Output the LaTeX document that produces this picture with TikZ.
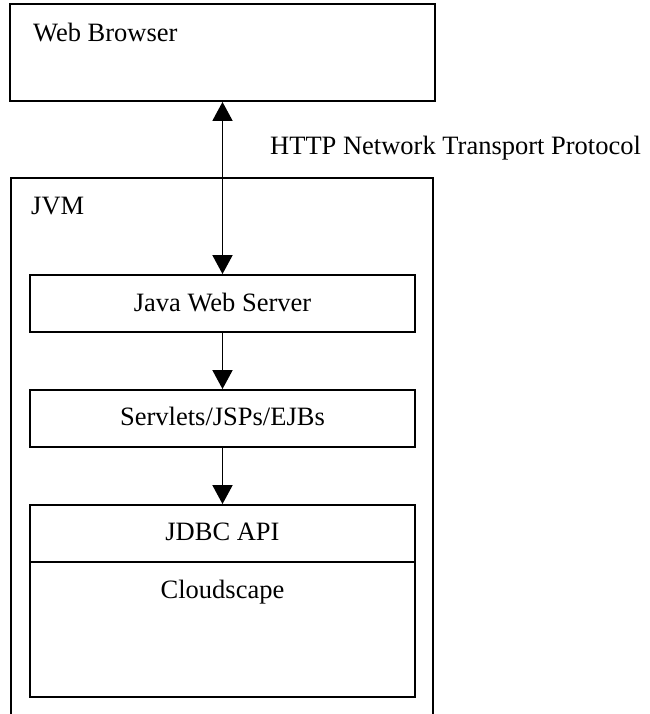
\documentclass[tikz,border=0pt]{standalone}
\usepackage{fontspec}
\setmainfont{Liberation Serif}
\usetikzlibrary{arrows.meta}
\begin{document}
\begin{tikzpicture}[x=1pt,y=-1pt,
  box/.style={draw=black,line width=1.9pt,rectangle,inner sep=0pt,minimum width=385pt},
  lbl/.style={inner sep=0pt,anchor=base,font=\fontsize{26.5}{30}\selectfont},
  conn/.style={line width=1.9pt,-{Triangle[length=19pt,width=20pt]}},
  biconn/.style={line width=1.9pt,{Triangle[length=19pt,width=20pt]}-{Triangle[length=19pt,width=20pt]}}]
\useasboundingbox (0,0) rectangle (649,714);
% Web browser
\node[box,minimum width=425pt,minimum height=97pt] (browser) at (222.5,52.5) {};
\node[lbl,anchor=base west] (browsertxt) at (33,42) {Web Browser};
% JVM container (open at bottom)
\coordinate (jvmbl) at (11,720);
\coordinate (jvmtl) at (11,178);
\coordinate (jvmtr) at (433,178);
\coordinate (jvmbr) at (433,720);
\draw[line width=1.9pt] (jvmbl) -- (jvmtl) -- (jvmtr) -- (jvmbr);
\node[lbl,anchor=base west] (jvmtxt) at (31,214) {JVM};
% inner boxes
\node[box,minimum height=57pt] (jws) at (222.5,303.5) {};
\node[lbl] (jwstxt) at (222.5,311) {Java Web Server};
\node[box,minimum height=57pt] (serv) at (222.5,418.5) {};
\node[lbl] (servtxt) at (222.5,425) {Servlets/JSPs/EJBs};
\node[box,minimum height=57pt] (jdbc) at (222.5,533.5) {};
\node[lbl] (jdbctxt) at (222.5,540) {JDBC API};
\node[box,minimum height=135pt] (cloud) at (222.5,629.5) {};
\node[lbl] (cloudtxt) at (222.5,598) {Cloudscape};
% connectors
\draw[biconn] (browser.south) -- (jws.north);
\node[lbl,anchor=base west] (http) at (270,155) {HTTP Network Transport Protocol};
\draw[conn] (jws.south) -- (serv.north);
\draw[conn] (serv.south) -- (jdbc.north);
\end{tikzpicture}
\end{document}
